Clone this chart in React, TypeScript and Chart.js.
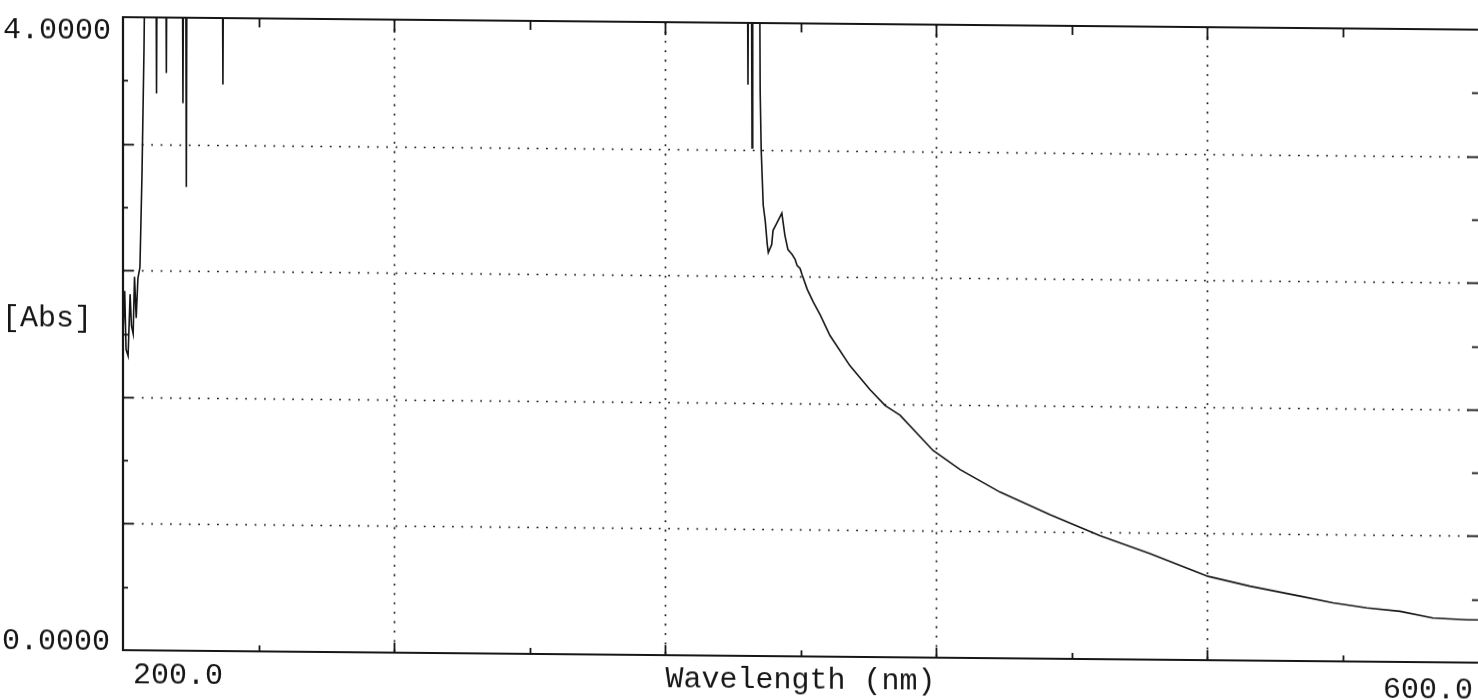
import React, { useEffect, useRef } from "react";
import { Chart, registerables } from "chart.js";

Chart.register(...registerables);

// Off-scale readings (above 4 Abs) are clipped at the top of the plot
const wavelengths = [
  200.0, 200.5, 200.9, 201.5, 202.1, 202.5, 203.0, 203.4, 203.9, 204.4,
  205.0, 205.6, 206.2, 206.6,
  209.7, 209.9, 210.1,
  212.6, 212.8, 213.0,
  217.5, 217.7, 217.9,
  218.5, 218.7, 218.9,
  229.3, 229.5, 229.7,
  384.3, 384.5, 384.7,
  385.5, 385.7, 385.9,
  387.9, 388.1, 388.4, 389.0, 389.6, 390.2, 390.5, 391.5, 391.9, 393.1,
  394.5, 395.4, 396.3, 397.5, 398.4, 399.0, 399.9, 400.5, 402.0, 403.8,
  405.8, 408.7, 414.6, 420.5, 425.0, 429.4, 439.1, 447.1, 458.9, 473.7,
  488.4, 503.2, 520.3, 532.7, 547.5, 557.2, 567.2, 577.0, 586.7, 596.8,
  600.0,
];

const absorbance = [
  2.0, 2.27, 1.9, 1.86, 2.25, 2.05, 2.0, 2.36, 2.1, 2.35,
  2.42, 3.0, 3.8, 4.6,
  4.6, 3.52, 4.6,
  4.6, 3.65, 4.6,
  4.6, 3.46, 4.6,
  4.6, 2.93, 4.6,
  4.6, 3.58, 4.6,
  4.6, 3.61, 4.6,
  4.6, 3.21, 4.6,
  4.6, 3.57, 3.2, 2.85, 2.75, 2.6, 2.55, 2.6, 2.69, 2.74,
  2.8, 2.66, 2.57, 2.54, 2.51, 2.47, 2.45, 2.41, 2.32, 2.24,
  2.16, 2.03, 1.84, 1.69, 1.59, 1.53, 1.31, 1.19, 1.05, 0.91,
  0.78, 0.67, 0.53, 0.47, 0.41, 0.37, 0.34, 0.32, 0.28, 0.27,
  0.27,
];

const xMin = 200;
const xMax = 600;
const yMin = 0;
const yMax = 4;
const gridX = [280, 360, 440, 520];
const gridY = [0.8, 1.6, 2.4, 3.2];
const minorX = [240, 320, 400, 480, 560];
const minorY = [0.4, 1.2, 2.0, 2.8, 3.6];
const yTickLabels = ["0.0000", "4.0000"];
const xTickLabels = ["200.0", "600.0"];
const xTitle = "Wavelength (nm)";
const yTitle = "[Abs]";

const FONT = '30px "Liberation Mono", "DejaVu Sans Mono", monospace';
const INK = "#161616";

const framePlugin = {
  id: "frame",
  beforeDatasetsDraw(chart: any) {
    const { ctx, chartArea: a, scales } = chart;
    const xs = scales.x;
    const ys = scales.y;
    ctx.save();
    ctx.strokeStyle = INK;
    ctx.lineWidth = 1.7;
    ctx.lineCap = "butt";
    ctx.setLineDash([1.8, 7.6]);
    gridX.forEach((v) => {
      const px = Math.round(xs.getPixelForValue(v)) + 0.5;
      ctx.beginPath();
      ctx.moveTo(px, a.top);
      ctx.lineTo(px, a.bottom);
      ctx.stroke();
    });
    gridY.forEach((v) => {
      const py = Math.round(ys.getPixelForValue(v)) + 0.5;
      ctx.beginPath();
      ctx.moveTo(a.left, py);
      ctx.lineTo(a.right, py);
      ctx.stroke();
    });
    ctx.restore();
  },
  afterDatasetsDraw(chart: any) {
    const { ctx, chartArea: a, scales } = chart;
    const xs = scales.x;
    const ys = scales.y;
    ctx.save();
    ctx.setLineDash([]);
    ctx.strokeStyle = INK;
    ctx.lineWidth = 2.2;
    // frame: top, left, bottom
    ctx.beginPath();
    ctx.moveTo(a.right, a.top);
    ctx.lineTo(a.left, a.top);
    ctx.lineTo(a.left, a.bottom);
    ctx.lineTo(a.right, a.bottom);
    ctx.stroke();
    ctx.lineWidth = 1.8;
    const tick = (x1: number, y1: number, x2: number, y2: number) => {
      ctx.beginPath();
      ctx.moveTo(x1, y1);
      ctx.lineTo(x2, y2);
      ctx.stroke();
    };
    gridX.forEach((v) => {
      const px = Math.round(xs.getPixelForValue(v)) + 0.5;
      tick(px, a.top, px, a.top + 13);
      tick(px, a.bottom, px, a.bottom - 10);
    });
    minorX.forEach((v) => {
      const px = Math.round(xs.getPixelForValue(v)) + 0.5;
      tick(px, a.top, px, a.top + 9);
      tick(px, a.bottom, px, a.bottom - 6);
    });
    gridY.forEach((v) => {
      const py = Math.round(ys.getPixelForValue(v)) + 0.5;
      tick(a.left, py, a.left + 10, py);
      tick(a.right, py, a.right - 11, py);
    });
    minorY.forEach((v) => {
      const py = Math.round(ys.getPixelForValue(v)) + 0.5;
      tick(a.left, py, a.left + 5, py);
      tick(a.right, py, a.right - 6, py);
    });
    ctx.restore();
  },
  afterDraw(chart: any) {
    const { ctx, chartArea: a, scales } = chart;
    const xs = scales.x;
    const ys = scales.y;
    ctx.save();
    ctx.font = FONT;
    ctx.fillStyle = INK;
    ctx.textBaseline = "alphabetic";
    // y tick labels
    ctx.textAlign = "right";
    ctx.fillText(yTickLabels[1], a.left - 12, ys.getPixelForValue(yMax) + 22);
    ctx.fillText(yTickLabels[0], a.left - 13, ys.getPixelForValue(yMin));
    // y title
    ctx.textAlign = "left";
    ctx.fillText(yTitle, 2, 326);
    // x tick labels
    ctx.fillText(xTickLabels[0], xs.getPixelForValue(xMin) + 10, a.bottom + 33);
    ctx.fillText(xTickLabels[1], xs.getPixelForValue(xMax) - 95, a.bottom + 36);
    // x title
    ctx.textAlign = "center";
    ctx.fillText(xTitle, (a.left + a.right) / 2, a.bottom + 32);
    ctx.restore();
  },
};

export default function App() {
  const ref = useRef<HTMLCanvasElement>(null);

  useEffect(() => {
    const canvas = ref.current;
    if (!canvas) return;
    const points = wavelengths.map((w, i) => ({ x: w, y: absorbance[i] }));
    const chart = new Chart(canvas, {
      type: "line",
      data: {
        datasets: [
          {
            data: points,
            borderColor: INK,
            borderWidth: 1.6,
            pointRadius: 0,
            tension: 0,
            fill: false,
          },
        ],
      },
      options: {
        animation: false,
        responsive: false,
        devicePixelRatio: 1,
        events: [],
        layout: { padding: { left: 123, top: 16, right: 0, bottom: 51 } },
        plugins: {
          legend: { display: false },
          tooltip: { enabled: false },
        },
        scales: {
          x: { type: "linear", min: xMin, max: xMax, display: false },
          y: { type: "linear", min: yMin, max: yMax, display: false },
        },
      },
      plugins: [framePlugin],
    } as any);
    return () => chart.destroy();
  }, []);

  return (
    <div
      style={{
        position: "absolute",
        left: 0,
        top: 0,
        width: 1478,
        height: 700,
        overflow: "hidden",
        background: "#fff",
      }}
    >
      <canvas
        ref={ref}
        width={1478}
        height={700}
        style={{
          display: "block",
          width: 1478,
          height: 700,
          transform: "skewY(0.53deg)",
          transformOrigin: "0 0",
        }}
      />
    </div>
  );
}
